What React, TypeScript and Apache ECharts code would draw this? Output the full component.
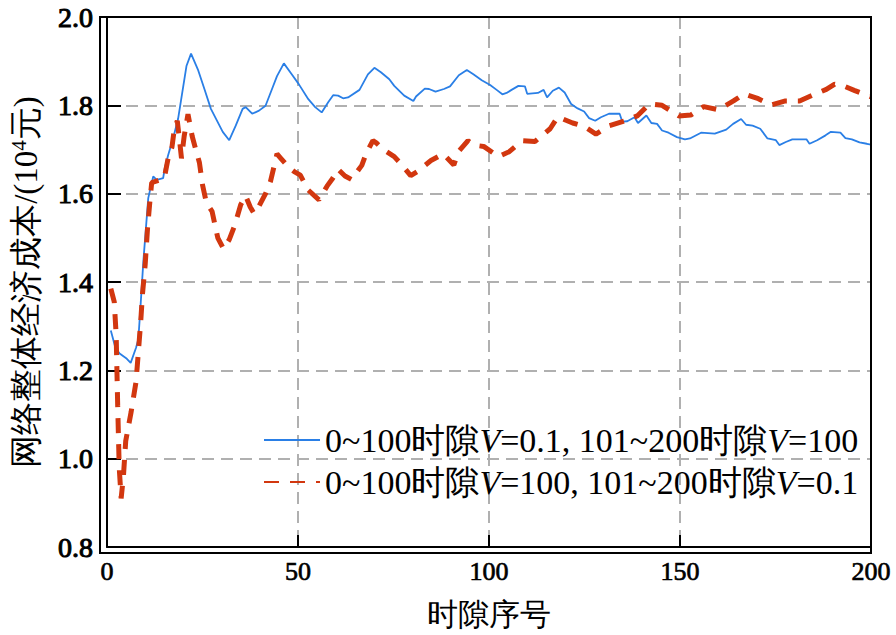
import React, { useEffect, useRef } from "react";
import * as echarts from "echarts";

const seriesNames = [
  "0~100时隙V=0.1, 101~200时隙V=100",
  "0~100时隙V=100, 101~200时隙V=0.1",
];

const xMin = 0;
const xMax = 200;
const xInterval = 50;
const yMin = 0.8;
const yMax = 2.0;
const yInterval = 0.2;

const xAxisTitle = "时隙序号";
const yAxisTitleMain = "网络整体经济成本/(10";
const yAxisTitleSup = "4";
const yAxisTitleEnd = "元)";

const blueSeries: [number, number][] = [
  [1, 1.29], [2.2, 1.251], [3.3, 1.238], [5.2, 1.226], [6.2, 1.217], [7.6, 1.251], [8.2, 1.27],
  [8.6, 1.322], [9.1, 1.389], [9.5, 1.445], [10.2, 1.523], [10.8, 1.59], [11.4, 1.613], [12.1, 1.639],
  [13.0, 1.631], [14.7, 1.635], [15.1, 1.657], [16.0, 1.687], [17.3, 1.725], [18.6, 1.769], [19.7, 1.829],
  [20.8, 1.889], [22.0, 1.917], [23.8, 1.881], [25.5, 1.837], [27.2, 1.792], [30.3, 1.74], [32.0, 1.721],
  [33.7, 1.754], [35.5, 1.792], [36.3, 1.796], [38.0, 1.781], [39.8, 1.788], [41.5, 1.799], [43.2, 1.837],
  [44.5, 1.866], [46.3, 1.895], [48.4, 1.87], [50.2, 1.848], [52.7, 1.814], [54.5, 1.796], [56.2, 1.784],
  [57.9, 1.807], [59.2, 1.823], [60.5, 1.822], [61.8, 1.816], [63.1, 1.818], [66.1, 1.835], [68.3, 1.87],
  [70.0, 1.885], [71.7, 1.875], [73.9, 1.859], [75.2, 1.844], [77.8, 1.822], [80.2, 1.81], [80.9, 1.82],
  [83.2, 1.838], [84.3, 1.837], [86.0, 1.831], [88.2, 1.837], [89.8, 1.843], [92.1, 1.868], [94.2, 1.88],
  [96.0, 1.87], [98.1, 1.857], [100.3, 1.846], [102.0, 1.835], [103.5, 1.825], [104.6, 1.828], [105.9, 1.835],
  [107.7, 1.844], [109.4, 1.843], [110.0, 1.826], [112.8, 1.828], [114.3, 1.835], [115.2, 1.818], [116.7, 1.833],
  [118.3, 1.84], [119.8, 1.829], [121.5, 1.803], [123.2, 1.793], [124.9, 1.786], [126.2, 1.771], [127.8, 1.765],
  [129.3, 1.773], [131.4, 1.781], [134.2, 1.781], [134.9, 1.763], [136.2, 1.764], [138.1, 1.773], [139.0, 1.76],
  [141.2, 1.777], [142.5, 1.76], [144.0, 1.758], [145.3, 1.743], [147.0, 1.738], [149.2, 1.728], [151.3, 1.723],
  [152.6, 1.725], [155.5, 1.738], [159.1, 1.736], [162.1, 1.745], [163.9, 1.758], [166.0, 1.769], [167.3, 1.756],
  [169.0, 1.754], [171.0, 1.747], [172.9, 1.725], [175.1, 1.721], [176.0, 1.71], [177.7, 1.717], [179.4, 1.723],
  [183.1, 1.723], [183.9, 1.713], [185.9, 1.721], [188.1, 1.732], [189.5, 1.74], [192.0, 1.738], [193.3, 1.726],
  [195.0, 1.723], [197.0, 1.716], [198.9, 1.713], [200, 1.711],
];

const redSeries: [number, number][] = [
  [1, 1.385], [1.9, 1.355], [2.4, 1.28], [2.8, 1.12], [3.2, 0.98], [3.7, 0.91], [4.3, 0.96], [4.9, 1.04],
  [6.3, 1.105], [7.6, 1.174], [8.8, 1.307], [9.3, 1.374], [10.0, 1.44], [10.6, 1.52], [11.2, 1.58],
  [11.7, 1.625], [13.5, 1.63], [15.0, 1.635], [16.0, 1.68], [17.0, 1.705], [17.6, 1.745], [18.4, 1.765],
  [19.0, 1.72], [19.5, 1.68], [20.2, 1.73], [21.2, 1.78], [22.3, 1.73], [23.3, 1.698], [24.2, 1.67],
  [25.0, 1.62], [26.0, 1.58], [27.5, 1.56], [29.0, 1.5], [30.5, 1.475], [32.0, 1.496], [33.5, 1.53],
  [35.0, 1.575], [36.3, 1.595], [37.5, 1.57], [38.5, 1.555], [39.7, 1.57], [41.5, 1.6], [42.8, 1.628],
  [44.5, 1.69], [45.5, 1.68], [47.5, 1.66], [49.0, 1.65], [50.6, 1.642], [52.7, 1.608], [55.5, 1.586],
  [57.6, 1.617], [59.1, 1.635], [60.5, 1.655], [62.3, 1.64], [64.0, 1.632], [66.7, 1.664], [67.8, 1.69],
  [69.6, 1.72], [70.5, 1.715], [72.3, 1.7], [75.2, 1.684], [77.3, 1.664], [79.5, 1.641], [81.2, 1.65],
  [84.8, 1.675], [88.0, 1.69], [90.8, 1.665], [92.0, 1.695], [94.5, 1.72], [96.0, 1.71], [98.6, 1.707],
  [102.5, 1.684], [105.3, 1.695], [108.7, 1.72], [112, 1.718], [116, 1.747], [118, 1.774], [121.9, 1.76],
  [125, 1.752], [128, 1.735], [131.5, 1.754], [135.7, 1.765], [138.8, 1.776], [142, 1.803], [145.3, 1.8],
  [149.7, 1.776], [152.8, 1.778], [156.2, 1.797], [160, 1.79], [164, 1.81], [166.8, 1.826], [170.5, 1.815],
  [173.9, 1.801], [177.6, 1.81], [181.3, 1.81], [185.2, 1.825], [188.3, 1.836], [190.5, 1.848],
  [192.5, 1.845], [195.6, 1.834], [199.7, 1.82], [200, 1.82],
];

const SERIF = "Liberation Serif";

const GRID = { left: 100, right: 25, top: 17, bottom: 82 };
const W = 896;
const H = 635;

export default function App() {
  const ref = useRef<HTMLDivElement>(null);

  useEffect(() => {
    if (!ref.current) return;
    document.body.style.margin = "0";
    const chart = echarts.init(ref.current, undefined, { renderer: "svg" });

    const legendFormatter = (name: string) =>
      "{n|" + name.split("V").join("}{i|V}{n|") + "}";

    const option: any = {
      animation: false,
      backgroundColor: "#ffffff",
      grid: { ...GRID, containLabel: false },
      legend: {
        orient: "vertical",
        left: 258,
        top: 417,
        itemWidth: 56,
        itemHeight: 14,
        itemGap: 6,
        align: "left",
        itemStyle: { opacity: 0 },
        formatter: legendFormatter,
        textStyle: {
          fontFamily: SERIF,
          fontSize: 34,
          color: "#000",
          lineHeight: 36,
          rich: {
            n: { fontFamily: SERIF, fontSize: 34, color: "#000", lineHeight: 36 },
            i: { fontFamily: SERIF, fontSize: 34, color: "#000", lineHeight: 36, fontStyle: "italic" },
          },
        },
        data: seriesNames,
      },
      xAxis: {
        type: "value",
        min: xMin,
        max: xMax,
        interval: xInterval,
        name: xAxisTitle,
        nameLocation: "middle",
        nameGap: 52,
        nameTextStyle: { fontFamily: SERIF, fontSize: 31, color: "#000" },
        axisLine: { show: true, lineStyle: { color: "#000", width: 2 } },
        axisTick: { show: true, inside: true, length: 12, lineStyle: { color: "#000", width: 2 } },
        axisLabel: {
          fontFamily: SERIF,
          fontSize: 26,
          color: "#000",
          margin: 11,
          textBorderColor: "#000",
          textBorderWidth: 0.7,
        },
        splitLine: { show: true, lineStyle: { color: "#b0b0b0", width: 2, type: [12, 7] } },
      },
      yAxis: {
        type: "value",
        min: yMin,
        max: yMax,
        interval: yInterval,
        name: "{a|" + yAxisTitleMain + "}{s|" + yAxisTitleSup + "}{a|" + yAxisTitleEnd + "}",
        nameLocation: "middle",
        nameGap: 63,
        nameTextStyle: {
          fontFamily: SERIF,
          fontSize: 33,
          color: "#000",
          rich: {
            a: { fontFamily: SERIF, fontSize: 33, color: "#000", lineHeight: 36 },
            s: { fontFamily: SERIF, fontSize: 21, color: "#000", lineHeight: 36, verticalAlign: "top" },
          },
        },
        axisLine: { show: true, lineStyle: { color: "#000", width: 2 } },
        axisTick: { show: true, inside: true, length: 14, lineStyle: { color: "#000", width: 2 } },
        axisLabel: {
          fontFamily: SERIF,
          fontSize: 28,
          color: "#000",
          margin: 14,
          textBorderColor: "#000",
          textBorderWidth: 1,
          formatter: (v: number) => v.toFixed(1),
        },
        splitLine: { show: true, lineStyle: { color: "#b0b0b0", width: 2, type: [12, 7] } },
      },
      graphic: [
        {
          type: "rect",
          z: 100,
          silent: true,
          shape: {
            x: GRID.left,
            y: GRID.top,
            width: W - GRID.left - GRID.right,
            height: H - GRID.top - GRID.bottom,
          },
          style: { fill: "none", stroke: "#000", lineWidth: 2 },
        },
      ],
      series: [
        {
          name: seriesNames[0],
          type: "line",
          data: blueSeries,
          symbol: "none",
          showSymbol: false,
          lineStyle: { color: "#2a7fe6", width: 1.8 },
          itemStyle: { color: "#2a7fe6" },
          z: 3,
        },
        {
          name: seriesNames[1],
          type: "line",
          data: redSeries,
          symbol: "none",
          showSymbol: false,
          lineStyle: { color: "#d2370f", width: 5, type: [15, 11], cap: "butt" },
          itemStyle: { color: "#d2370f" },
          z: 4,
        },
      ],
    };

    chart.setOption(option);
    return () => chart.dispose();
  }, []);

  return (
    <div
      ref={ref}
      style={{ position: "fixed", left: 0, top: 0, width: W + "px", height: H + "px", background: "#fff" }}
    />
  );
}
